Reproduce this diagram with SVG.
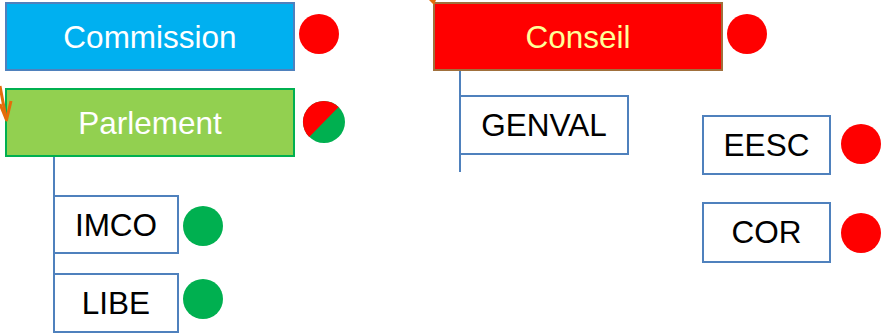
<svg xmlns="http://www.w3.org/2000/svg" width="883" height="334" viewBox="0 0 883 334">
<style>
text{font-family:"Liberation Sans",Arial,sans-serif;font-size:31.5px;text-anchor:middle}
.sub{fill:#fff;stroke:#4F81BD;stroke-width:2}
.sub-t{fill:#000}
.red{fill:#FF0000}
.grn{fill:#00B050}
.conn{stroke:#4F81BD;stroke-width:2;fill:none}
.orange{stroke:#E46C0A;stroke-width:3;fill:none;stroke-linejoin:round}
</style>
<rect width="883" height="334" fill="#fff"/>
<g id="commission">
<rect x="6" y="3" width="288" height="67" fill="#00B0F0" stroke="#4F81BD" stroke-width="2"/>
<text x="150" y="48" fill="#fff">Commission</text>
<circle class="red" cx="319" cy="34" r="20"/>
</g>
<g id="parlement">
<rect x="6" y="89" width="288" height="67" fill="#92D050" stroke="#00B050" stroke-width="2"/>
<text x="150" y="134" fill="#fff">Parlement</text>
<circle class="grn" cx="324" cy="122" r="21"/>
<path class="red" d="M309.2 136.9 A21 21 0 0 1 338.6 106.9 Z"/>
</g>
<g id="conseil">
<rect x="434" y="3" width="288" height="67" fill="#FF0000" stroke="#A0703C" stroke-width="2"/>
<text x="578" y="48" fill="#FFFF99">Conseil</text>
<circle class="red" cx="747" cy="34" r="20"/>
</g>
<g id="genval">
<rect class="sub" x="460" y="96" width="168" height="58"/>
<text class="sub-t" x="544" y="136">GENVAL</text>
</g>
<g id="imco">
<rect class="sub" x="54" y="196" width="124" height="57"/>
<text class="sub-t" x="116" y="236">IMCO</text>
<circle class="grn" cx="203" cy="226" r="20"/>
</g>
<g id="libe">
<rect class="sub" x="54" y="274" width="124" height="58"/>
<text class="sub-t" x="116" y="314">LIBE</text>
<circle class="grn" cx="203" cy="299" r="20"/>
</g>
<g id="eesc">
<rect class="sub" x="703" y="116" width="127" height="58"/>
<text class="sub-t" x="766.5" y="156">EESC</text>
<circle class="red" cx="861" cy="144" r="20"/>
</g>
<g id="cor">
<rect class="sub" x="703" y="203" width="127" height="59"/>
<text class="sub-t" x="766.5" y="243">COR</text>
<circle class="red" cx="861" cy="233" r="20"/>
</g>
<g id="connectors">
<line class="conn" x1="54" y1="157" x2="54" y2="332"/>
<line class="conn" x1="460" y1="71" x2="460" y2="172"/>
<path class="orange" d="M0 86 L6 118"/>
<path class="orange" d="M0 104 L6.5 120 L11 101"/>
<path d="M429 0 L434 5 L436 0 Z" fill="#E46C0A"/>
</g>
</svg>
